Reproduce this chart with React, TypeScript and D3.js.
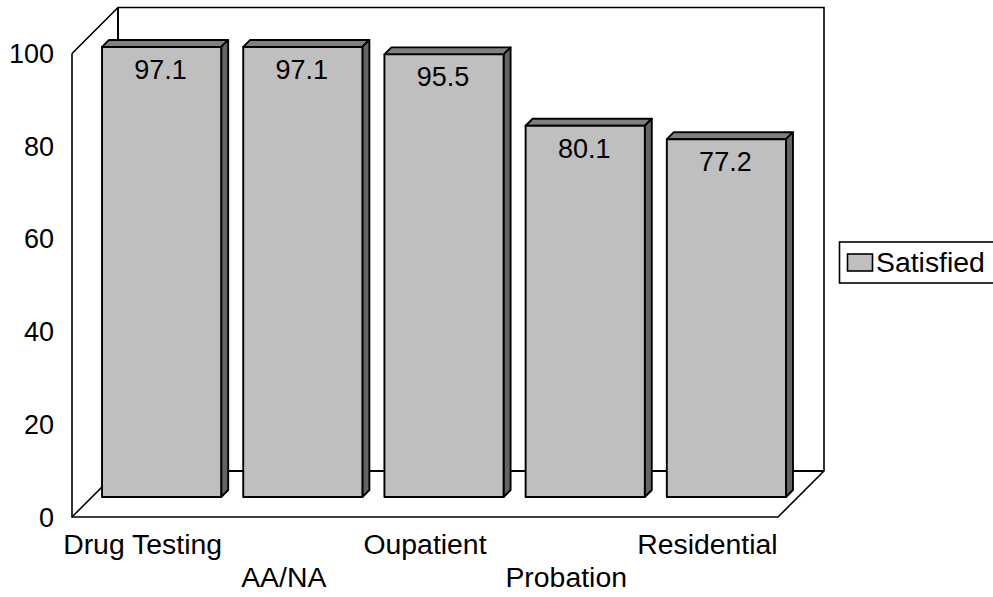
import * as d3 from 'd3';

const categories = ['Drug Testing', 'AA/NA', 'Oupatient', 'Probation', 'Residential'];
const satisfied = [97.1, 97.1, 95.5, 80.1, 77.2];
const yTicks = [0, 20, 40, 60, 80, 100];
const seriesName = 'Satisfied';

const width = 993;
const height = 597;
const font = '"Liberation Sans", Arial, sans-serif';
const fontSize = 27;
const wordSize = 28.4;

// front plane of the box
const left = 72;
const right = 778;
const bottom = 517;
const top = 53.5;
const depth = 46; // wall offset
const barShiftX = 19; // bars sit this far into the box
const barShiftY = 20;
const barDepth = 7;

const front = '#bfbfbf';
const topFace = '#808080';
const sideFace = '#646464';

export default function App() {
  const y = d3.scaleLinear().domain([0, 100]).range([bottom, top]);
  const x = d3.scaleBand<string>().domain(categories).range([left, right]).paddingInner(22 / 141).paddingOuter(11 / 141);
  const bw = x.bandwidth();

  return (
    <svg
      width={width}
      height={height}
      viewBox={`0 0 ${width} ${height}`}
      style={{ position: 'absolute', left: 0, top: 0, background: '#fff' }}
      fontFamily={font}
      fontSize={fontSize}
    >
      <g fill='none' stroke='#000' strokeWidth={1.6}>
        <path d={`M${left},${y(100)}L${left},${y(0)}L${right},${y(0)}L${right + depth},${y(0) - depth}L${right + depth},${y(100) - depth}L${left + depth},${y(100) - depth}L${left},${y(100)}`} />
        <path d={`M${left + depth},${y(100) - depth}V${y(0) - depth}H${right + depth}`} strokeWidth={2} />
        <path d={`M${left},${y(0)}L${left + depth},${y(0) - depth}`} />
      </g>

      {categories.map((c, i) => {
        const x0 = x(c)! + barShiftX;
        const x1 = x0 + bw;
        const yT = y(satisfied[i]) - barShiftY;
        const yB = y(0) - barShiftY;
        return (
          <g key={c} stroke='#000' strokeWidth={1.9} strokeLinejoin='round'>
            <path d={`M${x0},${yT}l${barDepth},${-barDepth}H${x1 + barDepth}l${-barDepth},${barDepth}Z`} fill={topFace} />
            <path d={`M${x1},${yT}l${barDepth},${-barDepth}V${yB - barDepth}l${-barDepth},${barDepth}Z`} fill={sideFace} />
            <rect x={x0} y={yT} width={bw} height={yB - yT} fill={front} />
            <text x={x0 + bw / 2 - 1} y={yT + 32} textAnchor='middle' stroke='none' fill='#000'>
              {satisfied[i]}
            </text>
          </g>
        );
      })}

      {yTicks.map((t) => (
        <text key={t} x={54} y={y(t) + 9.5} textAnchor='end' fill='#000'>
          {t}
        </text>
      ))}

      {categories.map((c, i) => (
        <text key={c} x={x(c)! + bw / 2} y={i % 2 === 0 ? 554 : 587} textAnchor='middle' fill='#000' fontSize={wordSize}>
          {c}
        </text>
      ))}

      <g>
        <rect x={839.5} y={242} width={160} height={41} fill='#fff' stroke='#000' strokeWidth={1.6} />
        <rect x={847.5} y={254} width={25} height={17} fill={front} stroke='#000' strokeWidth={1.6} />
        <text x={876} y={272} fill='#000' fontSize={wordSize}>
          {seriesName}
        </text>
      </g>
    </svg>
  );
}
